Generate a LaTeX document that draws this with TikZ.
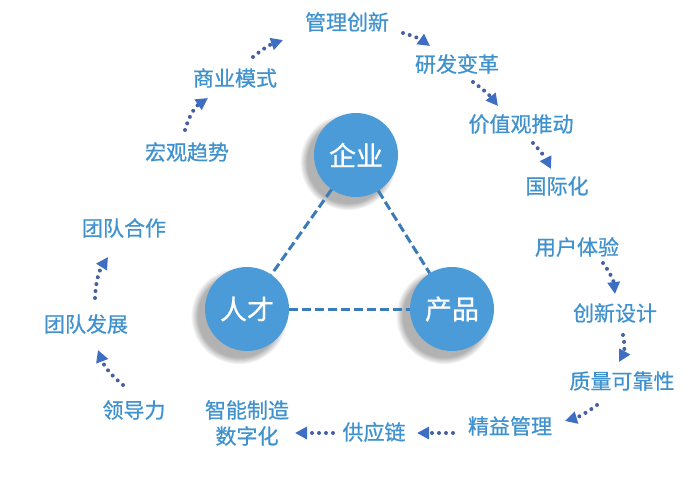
\documentclass[tikz,border=0pt]{standalone}
\usepackage{fontspec}
\newfontfamily\cjk[FakeBold=0.7]{Noto Sans CJK SC}
\usetikzlibrary{arrows.meta,shadows,fadings}

\definecolor{txtblue}{HTML}{3F92CE}
\definecolor{ballblue}{HTML}{4A9BD7}
\definecolor{dotblue}{HTML}{47609F}
\definecolor{headblue}{HTML}{3D6EC3}
\definecolor{linkblue}{HTML}{3A7CB8}

\tikzset{
	txt/.style={text=txtblue, inner sep=0pt, font=\cjk\fontsize{21}{26}\selectfont},
	ball/.style={circle, minimum size=84pt, inner sep=0pt, fill=ballblue, text=white,
		font=\cjk\fontsize{27}{30}\selectfont,
		circular drop shadow={shadow xshift=-7pt, shadow yshift=-6pt, shadow scale=1.15, opacity=0.6}},
	flow/.style={dotblue, line width=4pt, line cap=round, dash pattern=on 0pt off 7pt,
		-{Triangle[length=12pt,width=12pt,color=headblue]}},
	link/.style={linkblue, line width=3pt, dash pattern=on 9pt off 4pt}
}

\begin{document}
\begin{tikzpicture}[x=1pt,y=-1pt]
	\fill[white] (0,0) rectangle (700,477);
	\useasboundingbox (0,0) rectangle (700,477);

	% the three circles
	\node[ball] (firm) at (356,155) {企业};
	\node[ball] (talent) at (247,309) {人才};
	\node[ball] (product) at (452,309) {产品};
	\draw[link] (firm) -- (talent);
	\draw[link] (firm) -- (product);
	\draw[link] (talent) -- (product);

	% labels round the circles
	\node[txt] (trend) at (187,152) {宏观趋势};
	\node[txt] (model) at (235,78) {商业模式};
	\node[txt] (mgmt) at (347,22) {管理创新};
	\node[txt] (rnd) at (457,64) {研发变革};
	\node[txt] (values) at (521,124) {价值观推动};
	\node[txt] (intl) at (557,186) {国际化};
	\node[txt] (ux) at (577,247) {用户体验};
	\node[txt] (design) at (615,313) {创新设计};
	\node[txt] (quality) at (622,381) {质量可靠性};
	\node[txt] (lean) at (510,426) {精益管理};
	\node[txt] (supply) at (374,432) {供应链};
	\node[txt, align=center] (smart) at (247,423) {智能制造\\数字化};
	\node[txt] (lead) at (134,410) {领导力};
	\node[txt] (teamdev) at (86,324) {团队发展};
	\node[txt] (teamwork) at (124,228) {团队合作};

	% dotted arrows
	\draw[flow] ([shift={(-2,-22)}]trend.center) to[bend left=20] ([shift={(-27,20)}]model.center);
	\draw[flow] ([shift={(18,-21)}]model.center) to[bend left=10] ([shift={(-64,18)}]mgmt.center);
	\draw[flow] ([shift={(56,11)}]mgmt.center) to[bend left=10] ([shift={(-27,-18)}]rnd.center);
	\draw[flow] ([shift={(16,18)}]rnd.center) to[bend left=8] ([shift={(-23,-18)}]values.center);
	\draw[flow] ([shift={(12,19)}]values.center) to[bend left=8] ([shift={(-6,-17)}]intl.center);
	\draw[flow] ([shift={(26,16)}]ux.center) to[bend left=15] ([shift={(0,-19)}]design.center);
	\draw[flow] ([shift={(8,22)}]design.center) to[bend left=20] ([shift={(-3,-19)}]quality.center);
	\draw[flow] ([shift={(-25,24)}]quality.center) to[bend left=10] ([shift={(55,-5)}]lean.center);
	\draw[flow] ([shift={(-57,7)}]lean.center) -- ([shift={(43,1)}]supply.center);
	\draw[flow] ([shift={(-41,1)}]supply.center) -- ([shift={(48,10)}]smart.center);
	\draw[flow] ([shift={(-11,-25)}]lead.center) to[bend left=15] ([shift={(12,26)}]teamdev.center);
	\draw[flow] ([shift={(9,-26)}]teamdev.center) to[bend left=15] ([shift={(-16,29)}]teamwork.center);
\end{tikzpicture}
\end{document}
